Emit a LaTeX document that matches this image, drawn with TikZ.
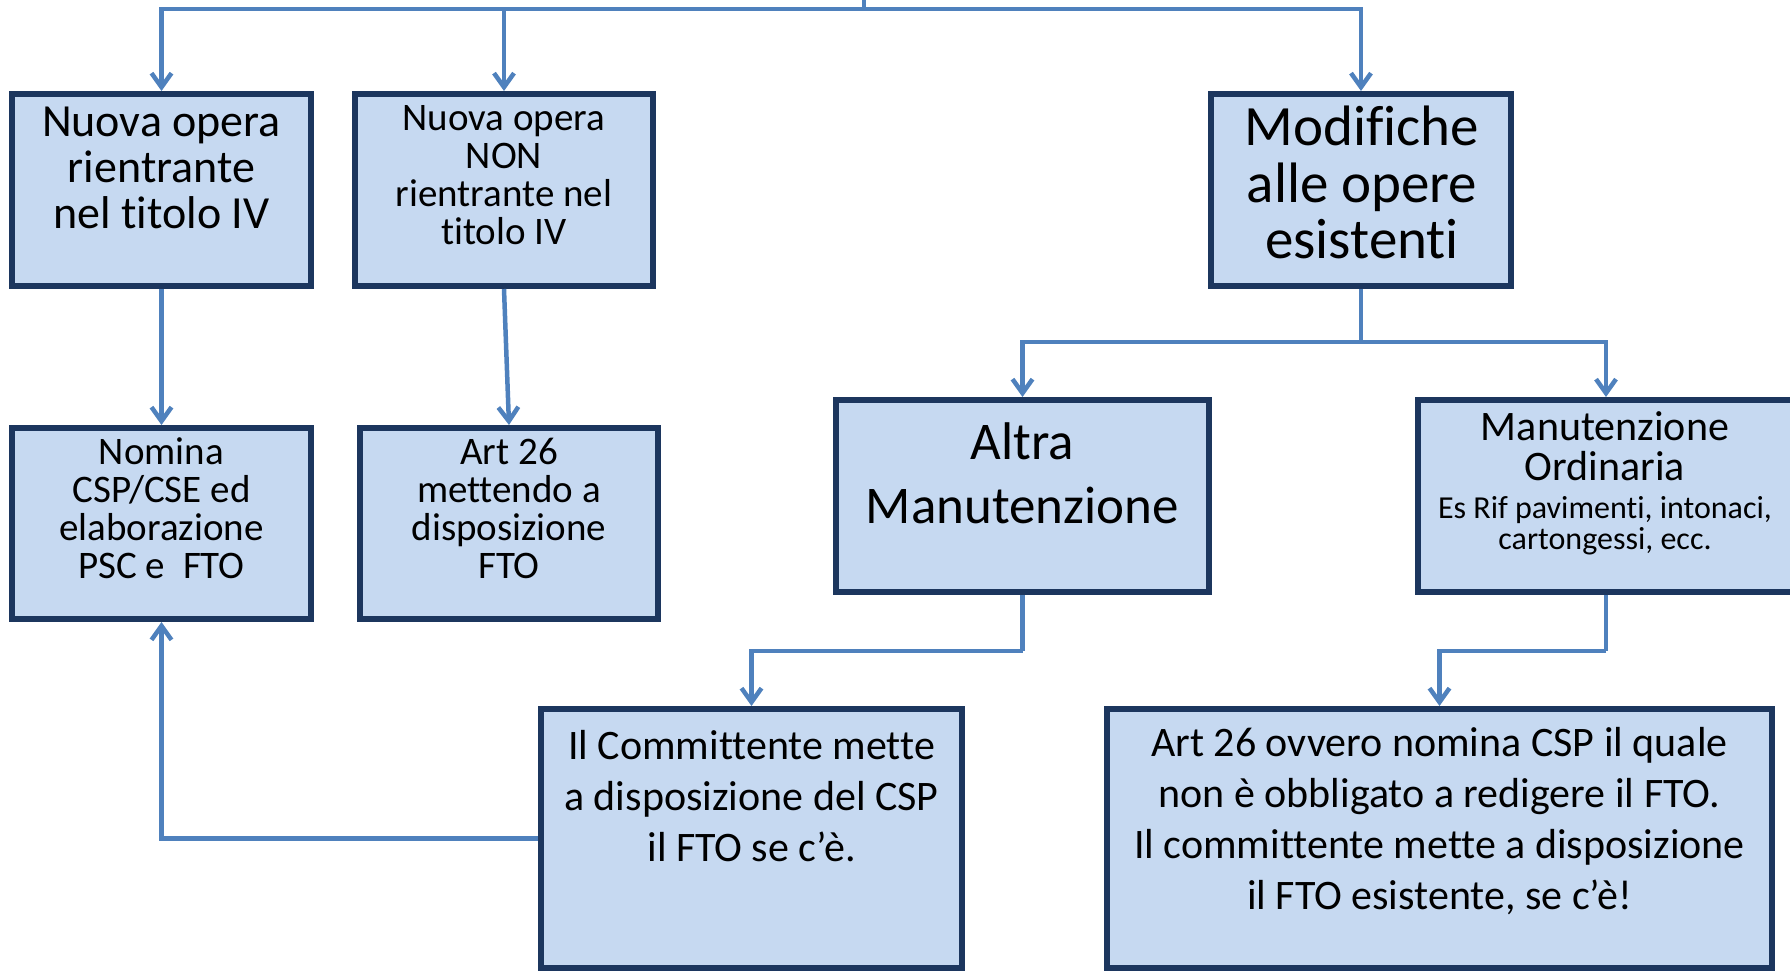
\documentclass[tikz,border=0pt]{standalone}
\usepackage{fontspec}
\setmainfont{Carlito}[Ligatures=NoCommon]
\usetikzlibrary{arrows.meta}
\definecolor{conncol}{HTML}{4F81BD}
\definecolor{boxfill}{HTML}{C6D9F1}
\definecolor{boxline}{HTML}{1C365E}
\tikzset{
 box/.style={draw=boxline, fill=boxfill, line width=6pt, inner sep=0pt, rectangle},
 link/.style={draw=conncol, line width=4.5pt},
 arr/.style={link, -{Straight Barb[length=14pt,width=20pt]}},
 txt/.style={align=center, inner sep=0pt, text=black},
}
\begin{document}
\begin{tikzpicture}[x=1pt,y=-1pt]
\useasboundingbox (0,0) rectangle (1790,971);
\clip (0,0) rectangle (1790,971);
% boxes
\node[box, minimum width=299pt, minimum height=192pt] (b1) at (161.5,190) {};
\node[box, minimum width=298pt, minimum height=192pt] (b2) at (504,190) {};
\node[box, minimum width=300pt, minimum height=192pt] (b3) at (1361,190) {};
\node[box, minimum width=299pt, minimum height=191pt] (b4) at (161.5,523.5) {};
\node[box, minimum width=298pt, minimum height=191pt] (b5) at (509,523.5) {};
\node[box, minimum width=373pt, minimum height=192pt] (b6) at (1022.5,496) {};
\node[box, minimum width=376pt, minimum height=192pt] (b7) at (1606,496) {};
\node[box, minimum width=421pt, minimum height=259pt] (b8) at (751.5,838.5) {};
\node[box, minimum width=665pt, minimum height=259pt] (b9) at (1439.5,838.5) {};
% texts
\node[txt, font=\fontsize{46}{45.7}\selectfont] (t1) at (161.5,168) {Nuova opera\\rientrante\\nel titolo IV};
\node[txt, font=\fontsize{39}{38}\selectfont] (t2) at (504,175.5) {Nuova opera\\NON\\rientrante nel\\titolo IV};
\node[txt, font=\fontsize{57}{56.5}\selectfont] (t3) at (1362,182.5) {Modifiche\\alle opere\\esistenti};
\node[txt, font=\fontsize{39}{38}\selectfont] (t4) at (161.5,508) {Nomina\\CSP/CSE ed\\elaborazione\\PSC e\ \ FTO};
\node[txt, font=\fontsize{39}{38}\selectfont] (t5) at (509,508) {Art 26\\mettendo a\\disposizione\\FTO};
\node[txt, font=\fontsize{53}{64}\selectfont] (t6) at (1022.5,473) {Altra\\Manutenzione};
\node[txt, font=\fontsize{42}{40}\selectfont] (t7a) at (1605,446) {Manutenzione\\Ordinaria};
\node[txt, font=\fontsize{32}{31}\selectfont] (t7b) at (1605,525.5) {Es Rif pavimenti, intonaci,\\cartongessi, ecc.};
\node[txt, font=\fontsize{42}{51}\selectfont] (t8) at (751.5,796) {Il Committente mette\\a disposizione del CSP\\il FTO se c’è.};
\node[txt, font=\fontsize{42}{51}\selectfont] (t9) at (1439.5,821) {Art 26 ovvero nomina CSP il quale\\non è obbligato a redigere il FTO.\\Il committente mette a disposizione\\il FTO esistente, se c’è!};
% junctions
\coordinate (top) at (864,0);
\coordinate (j0) at (864,9);
\coordinate (j1) at (b3.south |- 0,342);
\coordinate (j2) at (b6.south |- 0,651);
\coordinate (j3) at (b7.south |- 0,651);
% connectors
\draw[link] (top) -- (j0);
\draw[arr] (j0) -| (b1.north);
\draw[arr] (j0) -| (b2.north);
\draw[arr] (j0) -| (b3.north);
\draw[arr] (b1.south) -- (b4.north);
\draw[arr] (b2.south) -- (b5.north);
\draw[link] (b3.south) -- (j1);
\draw[arr] (j1) -| (b6.north);
\draw[arr] (j1) -| (b7.north);
\draw[link] (b6.south) -- (j2);
\draw[arr] (j2) -| (b8.north);
\draw[link] (b7.south) -- (j3);
\draw[arr] (j3) -| (b9.north);
\draw[arr] (b8.west) -| (b4.south);
\end{tikzpicture}
\end{document}
